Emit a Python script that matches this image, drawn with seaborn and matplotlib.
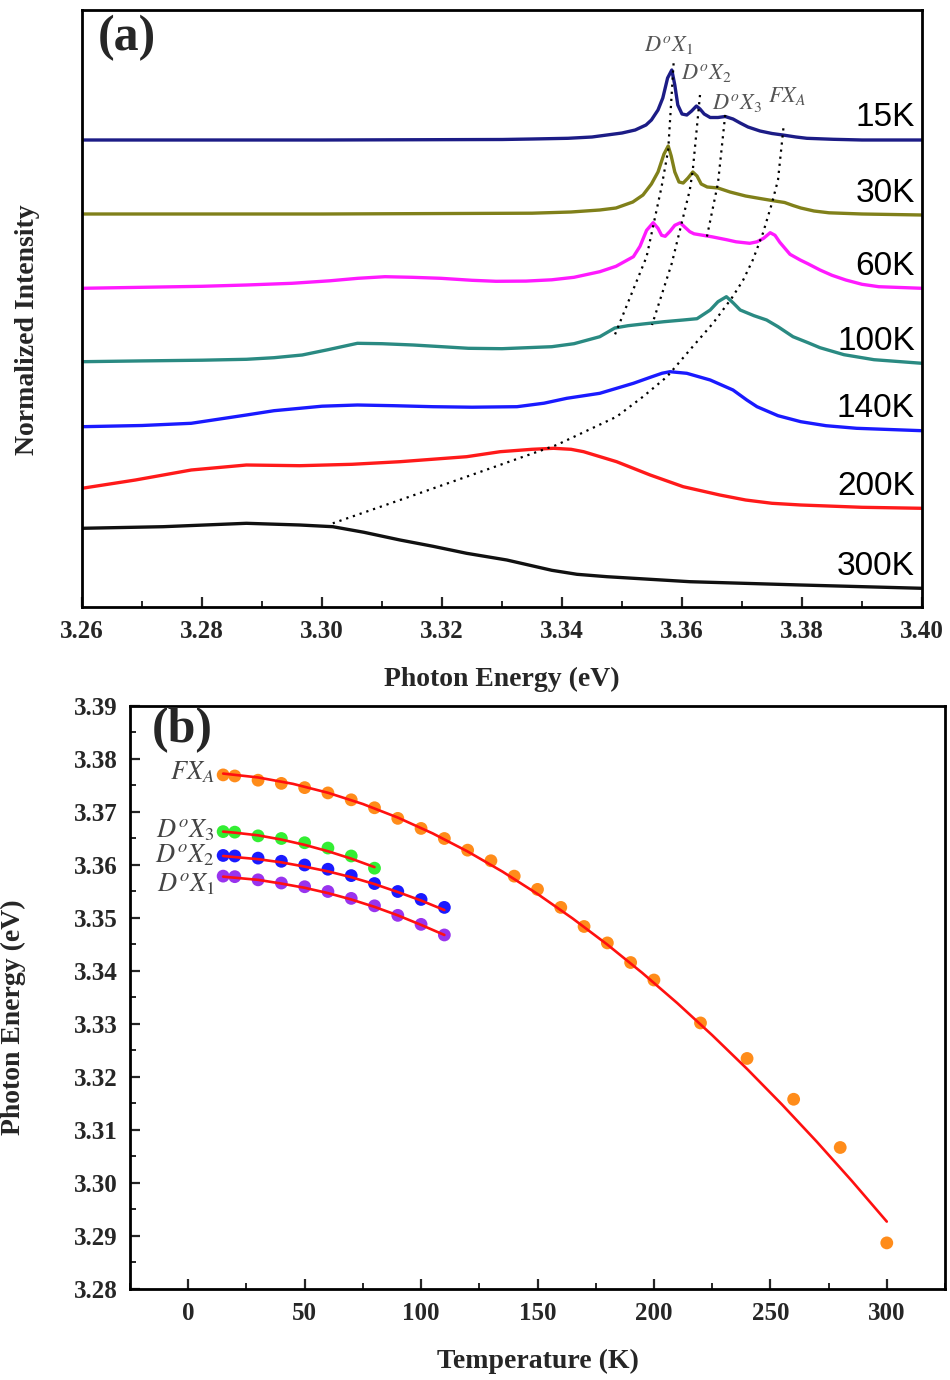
import matplotlib
matplotlib.use("Agg")
import matplotlib.pyplot as plt
import numpy as np
import pandas as pd
import seaborn as sns
from matplotlib.ticker import MultipleLocator, FormatStrFormatter

sns.set_theme(style="white")
plt.rcParams["font.family"] = ["Liberation Serif", "DejaVu Serif"]
plt.rcParams["mathtext.fontset"] = "stix"

# ---------------- Panel (a): PL spectra (relative intensity above each baseline) ----------------
TEMPS_A = ["15K", "30K", "60K", "100K", "140K", "200K", "300K"]
COLORS_A = ["#1c1c86", "#80801a", "#ff1aff", "#2a8a82", "#1a1aff", "#ff1a1a", "#111111"]
OFFSETS_A = [4.67, 3.93, 3.187, 2.453, 1.803, 1.187, 0.787]

E_15K = [3.260, 3.300, 3.330, 3.335, 3.341, 3.345, 3.3475, 3.350, 3.3522, 3.354, 3.3549, 3.356,
         3.3568, 3.3576, 3.3583, 3.3588, 3.3593, 3.360, 3.3608, 3.3616, 3.3624, 3.363, 3.3637,
         3.3647, 3.366, 3.3672, 3.3685, 3.3697, 3.371, 3.373, 3.375, 3.3768, 3.379, 3.3808,
         3.3852, 3.390, 3.400]
I_15K = [0.0, 0.0, 0.005, 0.01, 0.017, 0.03, 0.05, 0.07, 0.10, 0.15, 0.20, 0.30,
         0.42, 0.62, 0.70, 0.55, 0.35, 0.26, 0.25, 0.29, 0.34, 0.31, 0.26,
         0.225, 0.225, 0.235, 0.21, 0.17, 0.13, 0.09, 0.065, 0.05, 0.03, 0.017,
         0.007, 0.0, 0.0]

E_30K = [3.260, 3.300, 3.335, 3.3415, 3.3463, 3.349, 3.3518, 3.3535, 3.3549, 3.356, 3.357,
         3.3577, 3.3582, 3.3588, 3.3595, 3.3602, 3.361, 3.3618, 3.3625, 3.3632, 3.3642, 3.366,
         3.368, 3.3706, 3.373, 3.3755, 3.3771, 3.3785, 3.3798, 3.382, 3.3845, 3.390, 3.400]
I_30K = [0.0, 0.0, 0.008, 0.02, 0.04, 0.06, 0.12, 0.19, 0.30, 0.42, 0.60,
         0.68, 0.58, 0.42, 0.32, 0.31, 0.36, 0.42, 0.38, 0.30, 0.27, 0.26,
         0.22, 0.18, 0.155, 0.13, 0.115, 0.085, 0.06, 0.03, 0.012, 0.0, -0.01]

E_60K = [3.260, 3.270, 3.280, 3.2874, 3.295, 3.3013, 3.306, 3.3105, 3.315, 3.3198, 3.325, 3.329,
         3.334, 3.3383, 3.342, 3.3463, 3.349, 3.3519, 3.353, 3.3541, 3.3552, 3.356, 3.3566,
         3.3572, 3.358, 3.3588, 3.3597, 3.3605, 3.3613, 3.362, 3.363, 3.365, 3.3675, 3.369,
         3.3713, 3.3725, 3.3736, 3.3747, 3.3755, 3.3763, 3.378, 3.3797, 3.381, 3.383, 3.385,
         3.3873, 3.390, 3.3928, 3.400]
I_60K = [0.0, 0.01, 0.02, 0.033, 0.05, 0.075, 0.10, 0.116, 0.11, 0.10, 0.08, 0.07,
         0.072, 0.085, 0.11, 0.166, 0.22, 0.316, 0.42, 0.58, 0.656, 0.60, 0.53,
         0.52, 0.57, 0.63, 0.655, 0.61, 0.566, 0.545, 0.535, 0.515, 0.485, 0.465,
         0.45, 0.465, 0.50, 0.556, 0.53, 0.46, 0.34, 0.283, 0.245, 0.183, 0.13,
         0.083, 0.04, 0.016, 0.0]

E_100K = [3.260, 3.270, 3.280, 3.2874, 3.292, 3.2967, 3.301, 3.3059, 3.310, 3.3152, 3.320,
          3.3244, 3.330, 3.3383, 3.342, 3.3463, 3.3488, 3.351, 3.3535, 3.357, 3.3602, 3.3625,
          3.3647, 3.366, 3.3674, 3.3685, 3.3697, 3.372, 3.3741, 3.376, 3.3785, 3.381, 3.383,
          3.387, 3.392, 3.400]
I_100K = [0.0, 0.008, 0.015, 0.024, 0.04, 0.067, 0.12, 0.184, 0.18, 0.167, 0.15,
          0.134, 0.13, 0.15, 0.18, 0.25, 0.337, 0.36, 0.377, 0.40, 0.417, 0.43,
          0.517, 0.60, 0.65, 0.59, 0.517, 0.46, 0.417, 0.35, 0.25, 0.19, 0.14,
          0.07, 0.02, -0.016]

E_140K = [3.260, 3.270, 3.2782, 3.2874, 3.292, 3.2963, 3.300, 3.3059, 3.312, 3.3185, 3.325,
          3.3325, 3.337, 3.3408, 3.3463, 3.3519, 3.355, 3.3567, 3.358, 3.3608, 3.3647, 3.3685,
          3.3708, 3.3725, 3.376, 3.3798, 3.384, 3.3891, 3.400]
I_140K = [0.0, 0.012, 0.034, 0.117, 0.16, 0.184, 0.205, 0.217, 0.21, 0.20, 0.195,
          0.20, 0.235, 0.284, 0.334, 0.434, 0.50, 0.535, 0.55, 0.534, 0.467, 0.367,
          0.267, 0.20, 0.11, 0.05, 0.01, -0.016, -0.04]

E_200K = [3.260, 3.2689, 3.2782, 3.2874, 3.2963, 3.305, 3.313, 3.3241, 3.3297, 3.335, 3.3386,
          3.3415, 3.3436, 3.3491, 3.3547, 3.3602, 3.3663, 3.3706, 3.375, 3.3798, 3.390, 3.400]
I_200K = [0.0, 0.083, 0.183, 0.233, 0.226, 0.24, 0.266, 0.316, 0.366, 0.39, 0.40,
          0.39, 0.366, 0.266, 0.133, 0.016, -0.067, -0.117, -0.15, -0.167, -0.19, -0.20]

E_300K = [3.260, 3.2735, 3.2874, 3.2963, 3.3018, 3.307, 3.313, 3.3185, 3.3241, 3.3308, 3.3383,
          3.3425, 3.3475, 3.3613, 3.3798, 3.400]
I_300K = [0.0, 0.016, 0.05, 0.033, 0.016, -0.04, -0.117, -0.18, -0.25, -0.317, -0.42,
          -0.46, -0.484, -0.534, -0.567, -0.60]

SPECTRA_E = [E_15K, E_30K, E_60K, E_100K, E_140K, E_200K, E_300K]
SPECTRA_I = [I_15K, I_30K, I_60K, I_100K, I_140K, I_200K, I_300K]

# dotted guide lines through peak positions (energy, stacked intensity)
GUIDE_NAMES = [r"$D^{o}X_{\mathit{1}}$", r"$D^{o}X_{\mathit{2}}$", r"$D^{o}X_{\mathit{3}}$", r"$FX_{A}$"]
GUIDE_E = [
    [3.3586, 3.3577, 3.3566, 3.3541, 3.3488],
    [3.3630, 3.3618, 3.3613, 3.3583, 3.3550],
    [3.3672, 3.3660, 3.3641],
    [3.3769, 3.3760, 3.3750, 3.3735, 3.3718, 3.3702, 3.3683, 3.3652, 3.3613, 3.3575,
     3.3535, 3.3491, 3.3391, 3.3241, 3.3130, 3.3018],
]
GUIDE_I = [
    [5.437, 4.57, 4.203, 3.503, 2.72],
    [5.12, 4.37, 4.17, 3.437, 2.82],
    [4.92, 4.24, 3.687],
    [4.787, 4.27, 4.04, 3.74, 3.47, 3.27, 3.09, 2.84, 2.57, 2.303,
     2.103, 1.903, 1.62, 1.303, 1.07, 0.837],
]
GUIDE_LABEL_E = [3.3578, 3.3640, 3.3692, 3.3775]
GUIDE_LABEL_I = [5.62, 5.34, 5.04, 5.11]

# ---------------- Panel (b): peak energy vs temperature ----------------
T_FXA = [15, 20, 30, 40, 50, 60, 70, 80, 90, 100, 110, 120, 130, 140, 150, 160, 170, 180,
         190, 200, 220, 240, 260, 280, 300]
E_FXA = [3.3770, 3.3768, 3.3760, 3.3754, 3.3746, 3.3736, 3.3723, 3.3708, 3.3688, 3.3669,
         3.3650, 3.3628, 3.3608, 3.3579, 3.3554, 3.3520, 3.3484, 3.3453, 3.3416, 3.3383,
         3.3302, 3.3235, 3.3158, 3.3067, 3.2887]
T_D3 = [15, 20, 30, 40, 50, 60, 70, 80]
E_D3 = [3.3663, 3.3662, 3.3655, 3.3650, 3.3642, 3.3632, 3.3617, 3.3594]
T_D2 = [15, 20, 30, 40, 50, 60, 70, 80, 90, 100, 110]
E_D2 = [3.3618, 3.3617, 3.3613, 3.3607, 3.3600, 3.3592, 3.3580, 3.3565, 3.3550, 3.3535, 3.3520]
T_D1 = [15, 20, 30, 40, 50, 60, 70, 80, 90, 100, 110]
E_D1 = [3.3579, 3.3578, 3.3572, 3.3566, 3.3559, 3.3550, 3.3537, 3.3523, 3.3505, 3.3488, 3.3468]

# fitted curves
TF_FXA = [15, 30, 45, 60, 75, 90, 105, 120, 135, 150, 165, 180, 195, 210, 225, 240, 255, 270, 285, 300]
EF_FXA = [3.37725, 3.37652, 3.37531, 3.37363, 3.37151, 3.36895, 3.36596, 3.36255, 3.35874, 3.35454,
          3.34994, 3.34498, 3.33964, 3.33395, 3.32790, 3.32152, 3.31480, 3.30776, 3.30039, 3.29272]
TF_D3 = [15, 20, 30, 40, 50, 60, 70, 80]
EF_D3 = [3.3663, 3.3661, 3.3656, 3.3648, 3.3638, 3.3626, 3.3612, 3.3596]
TF_D2 = [15, 20, 30, 40, 50, 60, 70, 80, 90, 100, 110]
EF_D2 = [3.3617, 3.3615, 3.3611, 3.3605, 3.3597, 3.3588, 3.3577, 3.3564, 3.3549, 3.3533, 3.3515]
TF_D1 = [15, 20, 30, 40, 50, 60, 70, 80, 90, 100, 110]
EF_D1 = [3.3578, 3.3576, 3.3572, 3.3565, 3.3557, 3.3547, 3.3535, 3.3521, 3.3505, 3.3487, 3.3468]

SERIES_B = ["FXA", "D3", "D2", "D1"]
COLORS_B = {"FXA": "#ff8c1a", "D3": "#33ee33", "D2": "#1a1aff", "D1": "#9933ee"}
LABELS_B = [r"$FX_{A}$", r"$D^{o}X_{\mathit{3}}$", r"$D^{o}X_{\mathit{2}}$", r"$D^{o}X_{\mathit{1}}$"]
LABEL_Y_B = [3.3775, 3.3666, 3.3619, 3.3564]

# ---------------- Figure ----------------
fig = plt.figure(figsize=(9.5, 13.8), dpi=100)
ax_a = fig.add_axes([82 / 950, 1 - 607 / 1380, 840 / 950, 597 / 1380])
ax_b = fig.add_axes([130 / 950, 1 - 1289 / 1380, 815 / 950, 583 / 1380])

bold_font = dict(family=["Liberation Serif", "DejaVu Serif"], weight="bold")

# ----- panel (a)
rows = []
for name, es, ints, off in zip(TEMPS_A, SPECTRA_E, SPECTRA_I, OFFSETS_A):
    for e, i in zip(es, ints):
        rows.append({"energy": e, "intensity": i + off, "temp": name})
df_a = pd.DataFrame(rows)
sns.lineplot(data=df_a, x="energy", y="intensity", hue="temp", hue_order=TEMPS_A,
             palette=dict(zip(TEMPS_A, COLORS_A)), sort=False, estimator=None,
             legend=False, linewidth=2.4, ax=ax_a)
for ln in ax_a.lines:
    ln.set_solid_joinstyle("round")

for ge, gi in zip(GUIDE_E, GUIDE_I):
    ax_a.plot(ge, gi, color="black", linestyle=(0, (1, 2.2)), linewidth=1.6, zorder=5)

for name, lab_e, lab_i in zip(GUIDE_NAMES, GUIDE_LABEL_E, GUIDE_LABEL_I):
    ax_a.text(lab_e, lab_i, name, fontsize=16, color="#555555", ha="center", va="center")

for name, ints, off in zip(TEMPS_A, SPECTRA_I, OFFSETS_A):
    ax_a.text(3.3988, ints[-1] + off + 0.22, name, ha="right", va="center", fontsize=24,
              family=["Liberation Sans", "DejaVu Sans"], color="black")

ax_a.set_xlim(3.26, 3.40)
ax_a.set_ylim(0, 5.97)
ax_a.set_yticks([])
ax_a.xaxis.set_major_locator(MultipleLocator(0.02))
ax_a.xaxis.set_minor_locator(MultipleLocator(0.01))
ax_a.xaxis.set_major_formatter(FormatStrFormatter("%.2f"))
ax_a.set_xlabel("Photon Energy (eV)", fontsize=20, **bold_font)
ax_a.set_ylabel("Normalized Intensity", fontsize=20, **bold_font)
ax_a.xaxis.set_label_coords(0.5, -0.100)
ax_a.yaxis.set_label_coords(-0.05, 0.464)
ax_a.text(0.019, 0.992, "(a)", transform=ax_a.transAxes, ha="left", va="top",
          fontsize=36, **bold_font)

# ----- panel (b)
pts = []
for s, ts, es in zip(SERIES_B, [T_FXA, T_D3, T_D2, T_D1], [E_FXA, E_D3, E_D2, E_D1]):
    for t, e in zip(ts, es):
        pts.append({"T": t, "E": e, "peak": s})
df_b = pd.DataFrame(pts)
sns.scatterplot(data=df_b, x="T", y="E", hue="peak", palette=COLORS_B, s=85,
                linewidth=0, legend=False, ax=ax_b, zorder=3)

fits = []
for s, ts, es in zip(SERIES_B, [TF_FXA, TF_D3, TF_D2, TF_D1], [EF_FXA, EF_D3, EF_D2, EF_D1]):
    for t, e in zip(ts, es):
        fits.append({"T": t, "E": e, "peak": s})
df_f = pd.DataFrame(fits)
sns.lineplot(data=df_f, x="T", y="E", units="peak", estimator=None, sort=False,
             color="#ff1010", linewidth=1.9, legend=False, ax=ax_b, zorder=4)

for lab, ly in zip(LABELS_B, LABEL_Y_B):
    ax_b.text(11.5, ly, lab, fontsize=19, color="#444444", ha="right", va="center")

ax_b.set_xlim(-25, 325)
ax_b.set_ylim(3.28, 3.39)
ax_b.xaxis.set_major_locator(MultipleLocator(50))
ax_b.xaxis.set_minor_locator(MultipleLocator(25))
ax_b.yaxis.set_major_locator(MultipleLocator(0.01))
ax_b.yaxis.set_minor_locator(MultipleLocator(0.005))
ax_b.yaxis.set_major_formatter(FormatStrFormatter("%.2f"))
ax_b.set_xlabel("Temperature (K)", fontsize=20, **bold_font)
ax_b.set_ylabel("Photon Energy (eV)", fontsize=20, **bold_font)
ax_b.xaxis.set_label_coords(0.5, -0.103)
ax_b.yaxis.set_label_coords(-0.128, 0.4666)
ax_b.text(0.027, 0.998, "(b)", transform=ax_b.transAxes, ha="left", va="top",
          fontsize=36, **bold_font)

for ax in (ax_a, ax_b):
    for sp in ax.spines.values():
        sp.set_visible(True)
        sp.set_color("black")
        sp.set_linewidth(2.0)
    ax.tick_params(axis="both", which="major", direction="in", length=7, width=1.6,
                   labelsize=18, pad=9, bottom=True, left=(ax is ax_b), top=False, right=False)
    ax.tick_params(axis="both", which="minor", direction="in", length=4.5, width=1.4,
                   bottom=True, left=(ax is ax_b), top=False, right=False)
    for lbl in ax.get_xticklabels() + ax.get_yticklabels():
        lbl.set_fontweight("bold")
        lbl.set_family(["Liberation Serif", "DejaVu Serif"])
    ax.set_facecolor("white")

fig.savefig("out.png", dpi=100, facecolor="white")
